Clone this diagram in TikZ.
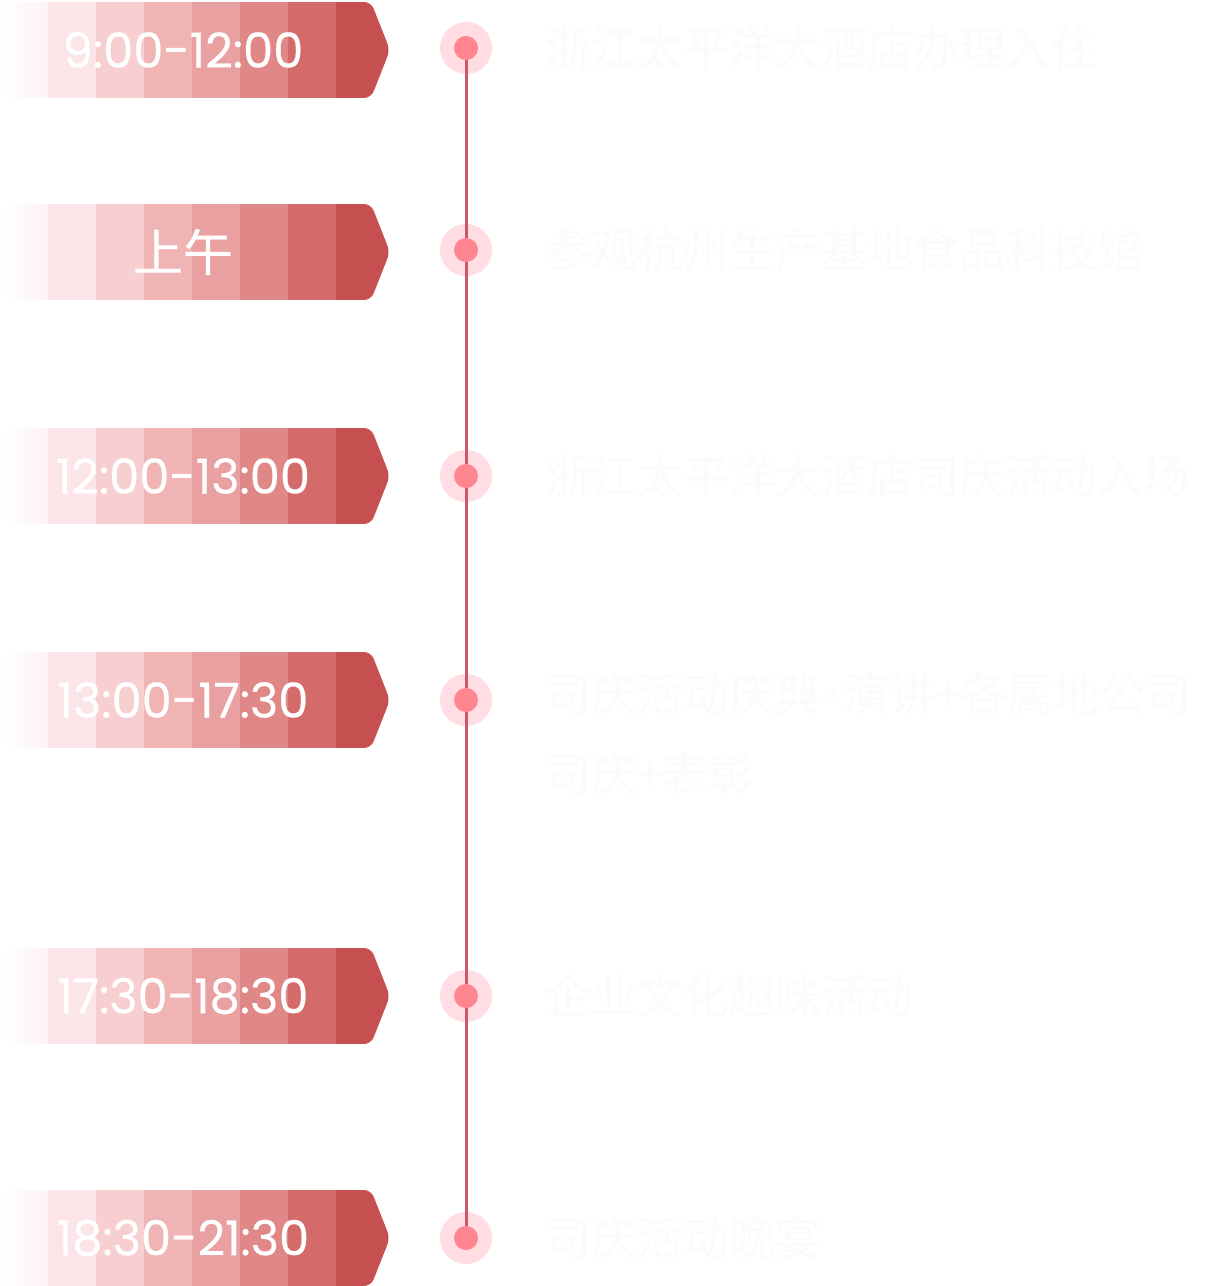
\documentclass[tikz,border=0pt]{standalone}
\usepackage{fontspec}
\setmainfont{Poppins}
\newfontfamily\bannerfont{Poppins}[FakeBold=0.5]
\newfontfamily\cjk{Noto Sans CJK SC}
\newfontfamily\cjkb{Noto Sans CJK SC}[FakeBold=0.5]
\newfontfamily\dotfont{Noto Sans}
\definecolor{cA}{HTML}{FEF3F4}
\definecolor{cB}{HTML}{FCE5E8}
\definecolor{cC}{HTML}{F7CFD1}
\definecolor{cD}{HTML}{F0B4B5}
\definecolor{cE}{HTML}{E9A0A1}
\definecolor{cF}{HTML}{E08787}
\definecolor{cG}{HTML}{D46B6A}
\definecolor{cH}{HTML}{C65050}
\definecolor{lineC}{HTML}{D0566A}
\definecolor{haloC}{HTML}{FFDDE3}
\definecolor{dotC}{HTML}{FF8590}
\definecolor{faint}{HTML}{FBFBFB}
\tikzset{
  bannertext/.style={text=white, font=\bannerfont\fontsize{48}{54}\selectfont, inner sep=0},
  halo/.style={circle, fill=haloC, minimum size=52pt, inner sep=0},
  dot/.style={circle, fill=dotC, minimum size=24pt, inner sep=0},
  desc/.style={anchor=west, text=faint, font=\cjk\fontsize{46}{80}\selectfont, inner sep=0, align=left},
  tl/.style={lineC, line width=3pt}
}
\begin{document}
\begin{tikzpicture}[x=1pt,y=-1pt]
\useasboundingbox (0,0) rectangle (1206,1286);
\fill[white] (0,0) rectangle (1206,1286);
\foreach \yc/\t/\n in {50/9:00-12:00/b1, 252/{\cjkb\fontsize{50}{56}\selectfont 上午}/b2, 476/12:00-13:00/b3, 700/13:00-17:30/b4, 996/17:30-18:30/b5, 1238/18:30-21:30/b6}{
  \begin{scope}
    \clip[rounded corners=7pt] (4,\yc-48) -- (371,\yc-48) -- (390,\yc) -- (371,\yc+48) -- (4,\yc+48) -- cycle;
    \shade[left color=white, right color=cA] (0,\yc-48) rectangle (48,\yc+48);
    \fill[cB] (48,\yc-48) rectangle (96,\yc+48);
    \fill[cC] (96,\yc-48) rectangle (144,\yc+48);
    \fill[cD] (144,\yc-48) rectangle (192,\yc+48);
    \fill[cE] (192,\yc-48) rectangle (240,\yc+48);
    \fill[cF] (240,\yc-48) rectangle (288,\yc+48);
    \fill[cG] (288,\yc-48) rectangle (336,\yc+48);
    \fill[cH] (336,\yc-48) rectangle (400,\yc+48);
  \end{scope}
  \node[bannertext] (\n) at (183,\yc) {\t};
}
% timeline halos
\node[halo] (h1) at (466,48) {};
\node[halo] (h2) at (466,250) {};
\node[halo] (h3) at (466,476) {};
\node[halo] (h4) at (466,700) {};
\node[halo] (h5) at (466,996) {};
\node[halo] (h6) at (466,1238) {};
\draw[tl] (h1.center) -- (h6.center);
\node[dot] (d1) at (h1) {};
\node[dot] (d2) at (h2) {};
\node[dot] (d3) at (h3) {};
\node[dot] (d4) at (h4) {};
\node[dot] (d5) at (h5) {};
\node[dot] (d6) at (h6) {};
% descriptions
\node[desc] (t1) at (545,48) {浙江太平洋大酒店办理入住};
\node[desc] (t2) at (545,250) {参观杭州生产基地食品科技馆};
\node[desc] (t3) at (545,476) {浙江太平洋大酒店司庆活动入场};
\node[desc, anchor=north west] (t4) at (545,672) {司庆活动庆典\hspace{5pt}{\dotfont ·}\hspace{5pt}演讲+各属地公司\\司庆+表彰};
\node[desc] (t5) at (545,996) {企业文化趣味活动};
\node[desc] (t6) at (545,1238) {司庆活动晚宴};
\end{tikzpicture}
\end{document}
